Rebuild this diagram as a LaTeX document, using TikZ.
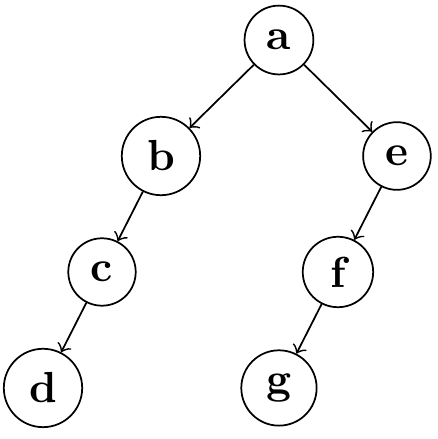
\documentclass[tikz,border=0pt]{standalone}
\usepackage{amsmath}
\usepackage{tikz}
\usetikzlibrary{arrows}

\begin{document}
\begin{tikzpicture}
  [x=13.57pt,y=26.68pt,every node/.style={draw,circle,inner sep=3.05pt,font=\bfseries}]

  \useasboundingbox (-0.729,-3.44) rectangle (6.695,0.345);

  \node (a) at (4,0)  {a};
  \node (b) at (2,-1) {b};
  \node (e) at (6,-1) {e};
  \node (c) at (1,-2) {c};
  \node (f) at (5,-2) {f};
  \node (d) at (0,-3) {d};
  \node (g) at (4,-3) {g};

  \path[->]
        (a) edge (b)
        (a) edge (e)
        (b) edge (c)
        (e) edge (f)
        (c) edge (d)
        (f) edge (g);
\end{tikzpicture}
\end{document}
